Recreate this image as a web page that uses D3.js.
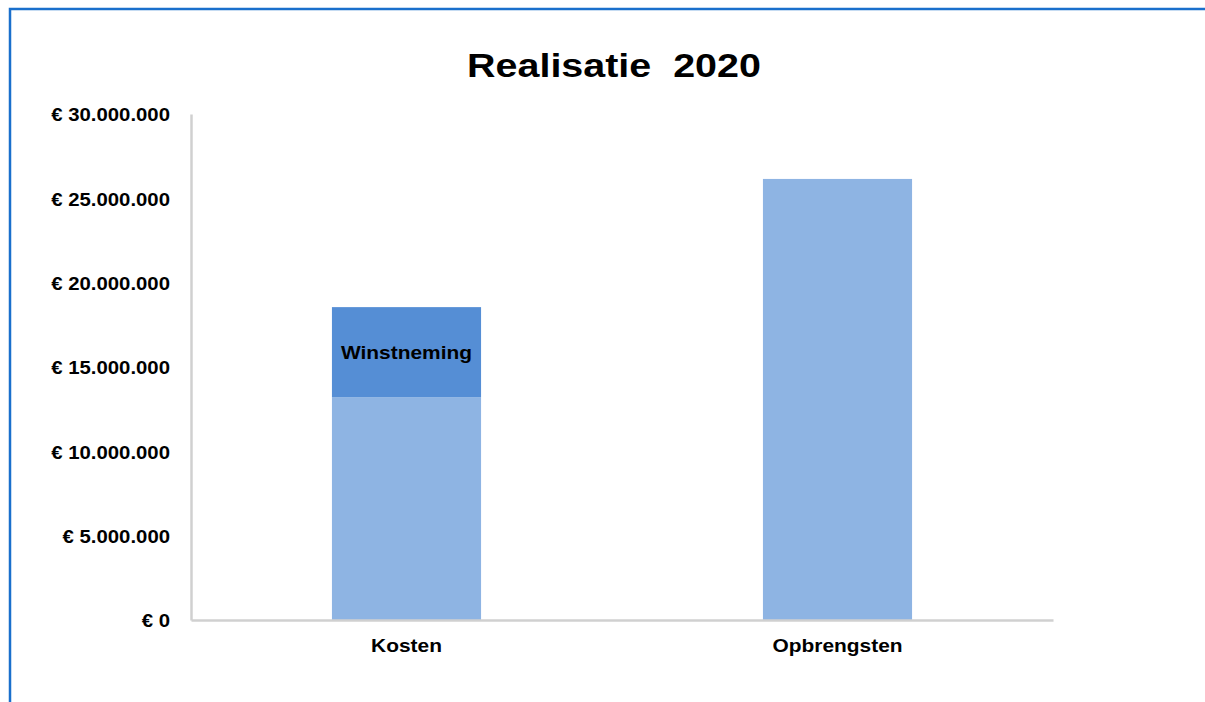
<!DOCTYPE html>
<html>
<head>
<meta charset="utf-8">
<script src="https://cdn.jsdelivr.net/npm/d3@7/dist/d3.min.js"></script>
<style>
  html, body { margin: 0; padding: 0; background: #fff; }
  svg { display: block; font-family: "Liberation Sans", Arial, sans-serif; }
</style>
</head>
<body>
<svg id="chart" width="1205" height="702"></svg>
<script>
// Realisatie 2020: costs (with profit taking stacked on top) versus revenues
const categories = ["Kosten", "Opbrengsten"];
const baseValues = [13200000, 26150000];       // light blue part
const winstValues = [5350000, 0];              // dark blue part (Winstneming)
const tickValues = [0, 5000000, 10000000, 15000000, 20000000, 25000000, 30000000];
const title = "Realisatie  2020";
const stackLabel = "Winstneming";

const svg = d3.select("#chart");
const W = 1205, H = 702;

// frame of the embedded chart object
svg.append("rect").attr("x", 10).attr("y", 9).attr("width", W).attr("height", H)
  .attr("fill", "#fff").attr("stroke", "#1a6fcc").attr("stroke-width", 2.5);

const plot = { left: 191, right: 1053, top: 114, bottom: 620 };

const x = d3.scaleBand().domain(categories)
  .range([plot.left, plot.right]).paddingInner(0.654).paddingOuter(0.327);
const y = d3.scaleLinear().domain([0, 30000000]).range([plot.bottom, plot.top]);

const fmt = v => "€ " + d3.format(",")(v).replace(/,/g, ".");

// text in this chart is set in a slightly widened bold face
const SX_TITLE = 1.16, SX_LABEL = 1.1;

// title
svg.append("text")
  .attr("transform", `translate(614,77) scale(${SX_TITLE},1)`)
  .attr("text-anchor", "middle")
  .attr("font-size", 34).attr("font-weight", "bold").attr("fill", "#000")
  .style("white-space", "pre").text(title);

// bars
const rows = categories.map((c, i) => ({ c, base: baseValues[i], winst: winstValues[i] }));
svg.selectAll("rect.base").data(rows).join("rect").attr("class", "base")
  .attr("x", d => x(d.c)).attr("width", x.bandwidth())
  .attr("y", d => y(d.base)).attr("height", d => y(0) - y(d.base))
  .attr("fill", "#8eb4e3");
svg.selectAll("rect.winst").data(rows.filter(d => d.winst > 0)).join("rect").attr("class", "winst")
  .attr("x", d => x(d.c)).attr("width", x.bandwidth())
  .attr("y", d => y(d.base + d.winst)).attr("height", d => y(d.base) - y(d.base + d.winst))
  .attr("fill", "#558ed5");
svg.selectAll("text.winst").data(rows.filter(d => d.winst > 0)).join("text").attr("class", "winst")
  .attr("transform", d => `translate(${x(d.c) + x.bandwidth() / 2},${(y(d.base) + y(d.base + d.winst)) / 2 + 7}) scale(${SX_LABEL},1)`)
  .attr("text-anchor", "middle").attr("font-size", 19).attr("font-weight", "bold")
  .attr("fill", "#000").text(stackLabel);

// y axis
const yPad = 21;
const yAxis = svg.append("g").attr("transform", `translate(${plot.left},0)`)
  .call(d3.axisLeft(y).tickValues(tickValues).tickFormat(fmt).tickSize(0).tickPadding(yPad));
yAxis.select(".domain").attr("stroke", "#d0d0d0").attr("stroke-width", 2.5);
yAxis.selectAll(".tick text")
  .attr("x", -yPad / SX_LABEL)
  .attr("transform", `scale(${SX_LABEL},1)`)
  .attr("font-size", 18.5).attr("font-weight", "bold").attr("fill", "#000")
  .attr("font-family", "Liberation Sans, Arial, sans-serif").attr("dy", "0.36em");

// x axis
const xAxis = svg.append("g").attr("transform", `translate(0,${plot.bottom})`)
  .call(d3.axisBottom(x).tickSize(0).tickPadding(19));
xAxis.select(".domain").attr("stroke", "#d0d0d0").attr("stroke-width", 2.5);
xAxis.selectAll(".tick text")
  .attr("transform", `scale(${SX_LABEL},1)`)
  .attr("font-size", 19).attr("font-weight", "bold").attr("fill", "#000")
  .attr("font-family", "Liberation Sans, Arial, sans-serif");
</script>
</body>
</html>
